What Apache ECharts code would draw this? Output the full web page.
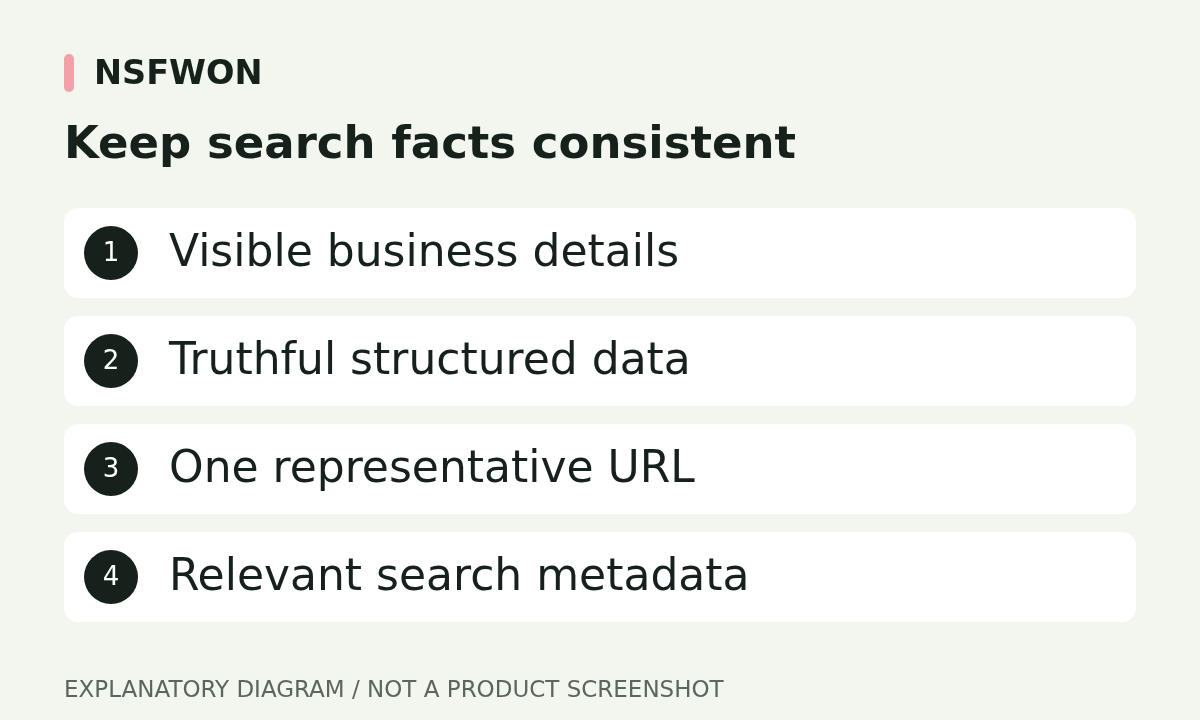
<!DOCTYPE html>
<html><head><meta charset="utf-8">
<script src="https://cdn.jsdelivr.net/npm/echarts@6/dist/echarts.min.js"></script>
<style>html,body{margin:0;padding:0;background:#f3f5ef}#c{width:1200px;height:720px}</style>
</head><body><div id="c"></div>
<script>
const brand = "NSFWON";
const title = "Keep search facts consistent";
const steps = ["Visible business details","Truthful structured data","One representative URL","Relevant search metadata"];
const stepNumbers = ["1","2","3","4"];
const footer = "EXPLANATORY DIAGRAM / NOT A PRODUCT SCREENSHOT";

const chart = echarts.init(document.getElementById('c'));
const F = "DejaVu Sans";
const g = [
  {type:'rect',shape:{x:64,y:54,width:10,height:38,r:5},style:{fill:'#f4a0a8'}},
  {type:'text',x:94,y:75,style:{text:brand,font:'bold 33.5px "'+F+'"',fill:'#17211c',textVerticalAlign:'middle'}},
  {type:'text',x:64,y:146,style:{text:title,font:'bold 45px "'+F+'"',fill:'#17211c',textVerticalAlign:'middle'}},
  {type:'text',x:64,y:691,style:{text:footer,font:'23px "'+F+'"',fill:'#5b665f',textVerticalAlign:'middle'}}
];
steps.forEach((s,i)=>{
  const y = 208 + i*108;
  g.push({type:'rect',shape:{x:64,y:y,width:1072,height:90,r:14},style:{fill:'#ffffff'}});
  g.push({type:'circle',shape:{cx:111,cy:y+45,r:27},style:{fill:'#17211c'}});
  g.push({type:'text',x:111,y:y+46,style:{text:stepNumbers[i],font:'26px "'+F+'"',fill:'#ffffff',textAlign:'center',textVerticalAlign:'middle'}});
  g.push({type:'text',x:169,y:y+47,style:{text:s,font:'44px "'+F+'"',fill:'#17211c',textVerticalAlign:'middle'}});
});
chart.setOption({backgroundColor:'#f3f5ef',graphic:g});
</script></body></html>
